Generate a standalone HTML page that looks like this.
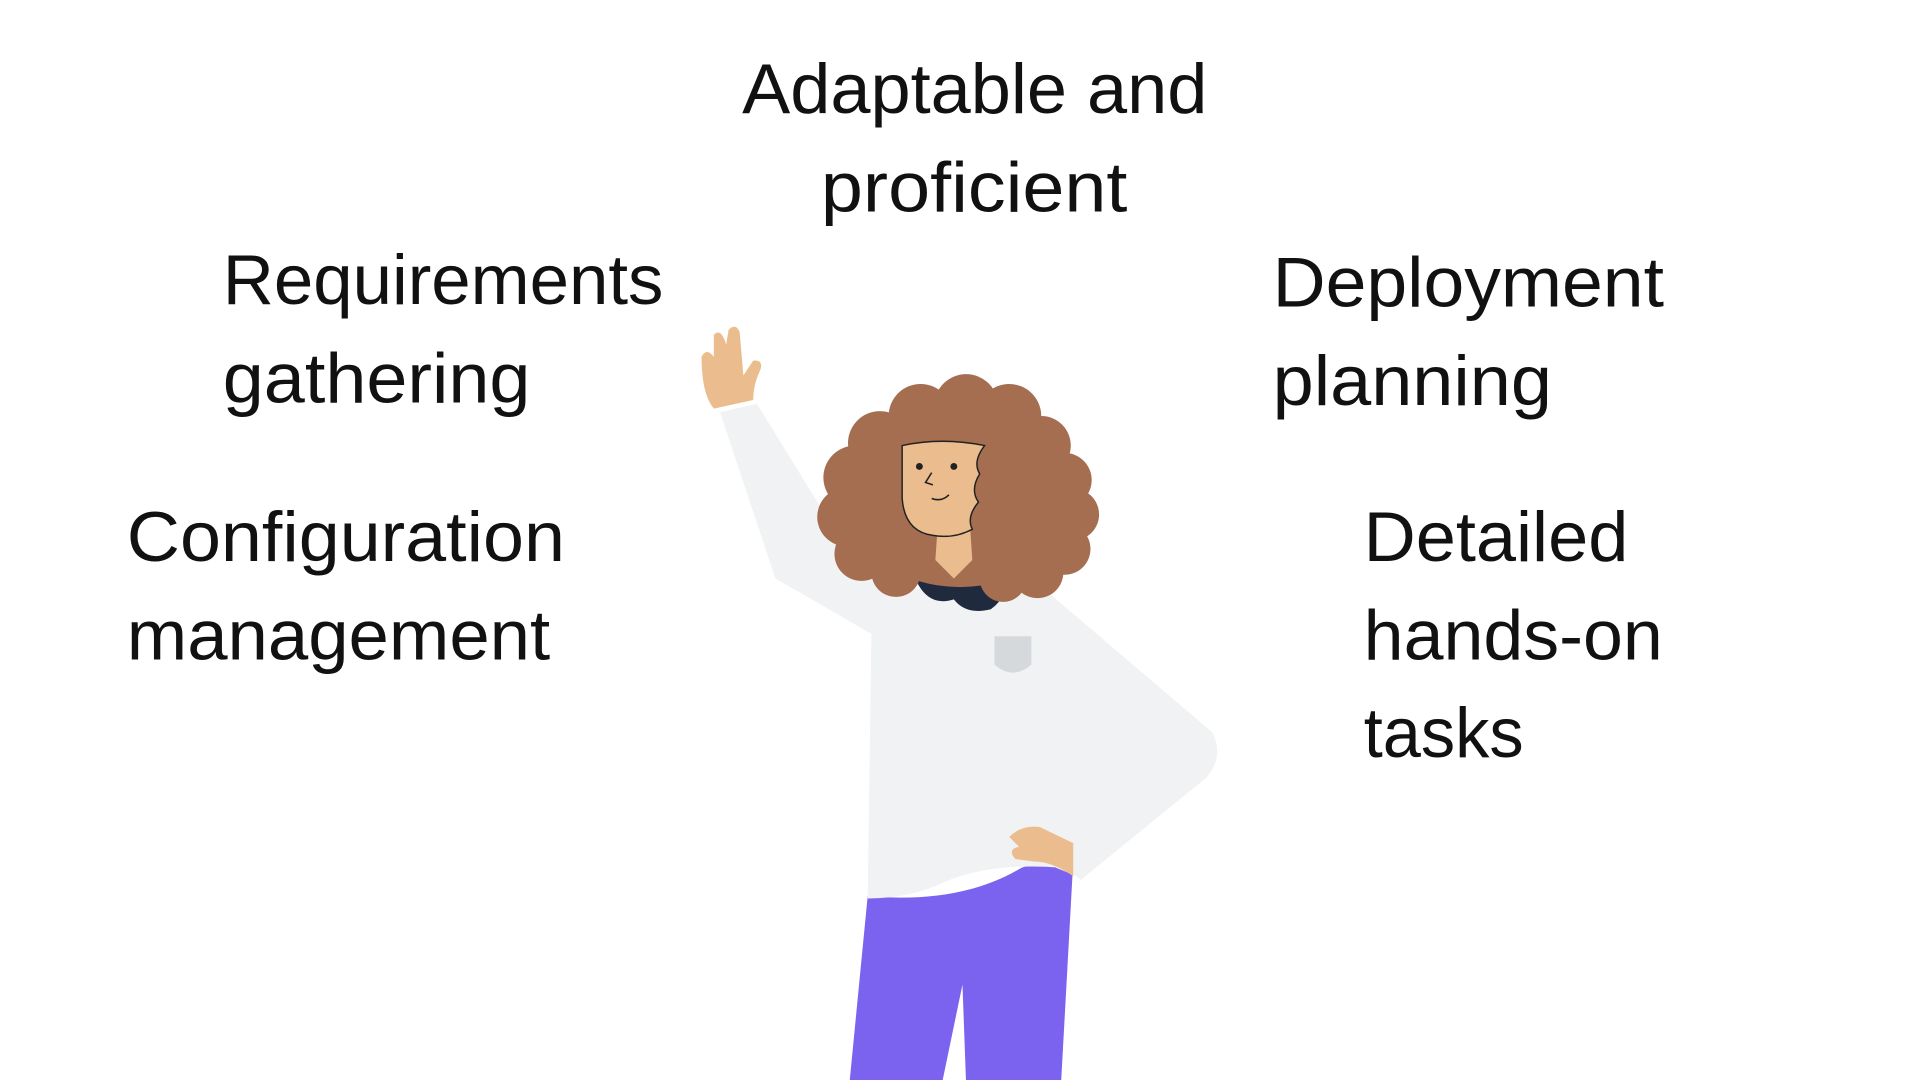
<!DOCTYPE html>
<html><head><meta charset="utf-8"><style>
html,body{margin:0;padding:0;background:#fff;}
svg{display:block;}
text{font-family:"Liberation Sans",sans-serif;font-size:57px;fill:#111;}
</style></head><body>
<svg width="1920" height="1080" viewBox="0 0 1560 877.5" preserveAspectRatio="none">
<rect width="1560" height="878" fill="#fff"/>
<text x="603" y="92" textLength="378" lengthAdjust="spacingAndGlyphs">Adaptable and</text>
<text x="667" y="172" textLength="249" lengthAdjust="spacingAndGlyphs">proficient</text>
<text x="181" y="247" textLength="358" lengthAdjust="spacingAndGlyphs">Requirements</text>
<text x="181" y="327" textLength="250" lengthAdjust="spacingAndGlyphs">gathering</text>
<text x="1034" y="249" textLength="318" lengthAdjust="spacingAndGlyphs">Deployment</text>
<text x="1034" y="329" textLength="227" lengthAdjust="spacingAndGlyphs">planning</text>
<text x="103" y="456" textLength="356" lengthAdjust="spacingAndGlyphs">Configuration</text>
<text x="103" y="536" textLength="344" lengthAdjust="spacingAndGlyphs">management</text>
<text x="1108" y="456" textLength="215" lengthAdjust="spacingAndGlyphs">Detailed</text>
<text x="1108" y="536" textLength="243" lengthAdjust="spacingAndGlyphs">hands-on</text>
<text x="1108" y="615" textLength="130" lengthAdjust="spacingAndGlyphs">tasks</text>

<!-- pants -->
<path d="M705 728 Q780 735 830 705 Q860 695 872 700 L862 882 L785 882 L782 800 L765 882 L690 882 Z" fill="#7B63EF"/>
<!-- shirt body & raised arm -->
<path d="M585 335 L615 328 L690 450 L740 478 L850 480 L985 600 Q992 615 980 630 L875 712 L858 705 L860 575 Q860 640 862 705 Q800 700 760 720 Q735 730 705 730 L708 515 L630 470 Z" fill="#F1F2F3"/>
<path d="M850 480 L985 595 Q995 615 980 632 L878 715 L862 700 L935 610 L860 575 Z" fill="#F1F2F3"/>
<!-- raised hand -->
<path d="M580 332 L612 325 Q612 312 618 300 Q620 292 612 293 L604 305 L601 270 Q598 262 592 268 L590 280 Q586 266 580 272 L580 290 Q574 282 570 290 Q570 320 580 332 Z" fill="#EBBD8E"/>
<!-- hip hand -->
<path d="M820 680 Q830 670 845 672 L872 685 L872 712 Q855 700 840 700 L825 698 Q818 690 828 688 Z" fill="#EBBD8E"/>
<!-- collar -->
<path d="M740 460 Q750 495 775 487 Q785 500 805 495 Q820 485 815 465 L775 455 Z" fill="#1F2A3E"/>
<!-- hair -->
<g fill="#A56E50">
<ellipse cx="780" cy="405" rx="92" ry="72"/>
<circle cx="715" cy="360" r="26"/><circle cx="748" cy="338" r="26"/><circle cx="785" cy="330" r="26"/><circle cx="820" cy="338" r="26"/>
<circle cx="846" cy="362" r="24"/><circle cx="865" cy="390" r="22"/><circle cx="872" cy="418" r="21"/><circle cx="865" cy="446" r="21"/>
<circle cx="843" cy="465" r="21"/><circle cx="695" cy="388" r="26"/><circle cx="688" cy="420" r="24"/><circle cx="700" cy="450" r="22"/>
<circle cx="728" cy="465" r="20"/><circle cx="815" cy="470" r="19"/>
</g>
<!-- neck & face -->
<path d="M762 425 L760 455 L775 470 L790 455 L788 425 Z" fill="#EBBD8E"/>
<path d="M733 362 Q765 355 800 362 Q790 375 796 385 Q788 398 795 408 Q785 420 790 430 Q775 438 758 435 Q735 432 733 405 Z" fill="#EBBD8E" stroke="#222" stroke-width="1.2"/>
<circle cx="747" cy="379" r="2.8" fill="#222"/><circle cx="775" cy="379" r="2.8" fill="#222"/>
<path d="M757 384 L752 392 L758 394" fill="none" stroke="#222" stroke-width="1.3"/>
<path d="M757 405 Q765 408 771 402" fill="none" stroke="#222" stroke-width="1.3"/>
<!-- pocket -->
<path d="M808 517 L838 517 L838 540 Q823 553 808 540 Z" fill="#D6D9DB"/>
</svg>
</body></html>
